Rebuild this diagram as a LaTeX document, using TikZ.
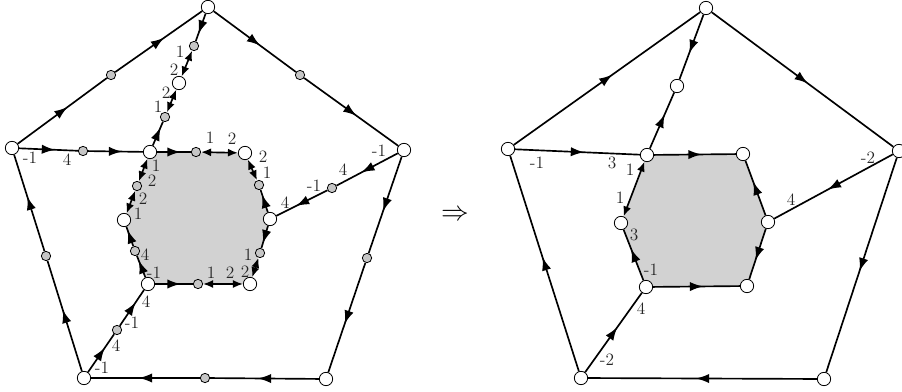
\documentclass[tikz,border=0pt]{standalone}
\usetikzlibrary{arrows.meta,decorations.markings,backgrounds}
\begin{document}
\begin{tikzpicture}[x=0.75pt,y=-0.75pt,
 wn/.style={circle,draw,fill=white,inner sep=0pt,minimum size=10pt,line width=0.6pt},
 gn/.style={circle,draw,fill=gray!45,inner sep=0pt,minimum size=7pt,line width=0.6pt},
 edge/.style={line width=1.25pt},
 mid/.style={edge,postaction={decorate},decoration={markings,mark=at position 0.5 with {\arrow[xshift=5pt]{Latex[length=10pt,width=7pt]}}}},
 dbl/.style={edge,{Latex[length=7.5pt,width=6pt]}-{Latex[length=7.5pt,width=6pt]}},
 lab/.style={font=\fontsize{13}{15}\selectfont,text=black!85,inner sep=0pt},
 hexfill/.style={fill=gray!35}]
\useasboundingbox (0,0) rectangle (902,392);
% ---------------- left diagram ----------------
\node[wn] (T) at (208,7) {};
\node[wn] (L) at (12,148) {};
\node[wn] (R) at (404,150) {};
\node[wn] (BL) at (84,378) {};
\node[wn] (BR) at (326,379) {};
\node[wn] (H1) at (150,152) {};
\node[wn] (H2) at (245,153) {};
\node[wn] (H3) at (270,219) {};
\node[wn] (H4) at (250,284) {};
\node[wn] (H5) at (148,284) {};
\node[wn] (H6) at (124,220) {};
\node[wn] (S) at (179,83) {};
\node[gn] (gLT) at (111,75) {};
\node[gn] (gTR) at (300,75) {};
\node[gn] (gRBR) at (367,258) {};
\node[gn] (gBRBL) at (205,378) {};
\node[gn] (gBLL) at (46,256) {};
\node[gn] (gLH) at (83,151) {};
\node[gn] (gRH) at (332,188) {};
\node[gn] (gBLH) at (117,330) {};
\node[gn] (gT1) at (194,46) {};
\node[gn] (gT2) at (165,117) {};
\node[gn] (h12) at (196,152) {};
\node[gn] (h23) at (259,185) {};
\node[gn] (h34) at (260,253) {};
\node[gn] (h45) at (198,284) {};
\node[gn] (h56) at (135,251) {};
\node[gn] (h61) at (137,186) {};
\begin{scope}[on background layer]
\fill[hexfill] (H1.center)--(H2.center)--(H3.center)--(H4.center)--(H5.center)--(H6.center)--cycle;
\end{scope}
% outer
\draw[mid] (L) -- (gLT);
\draw[mid] (gLT) -- (T);
\draw[mid] (T) -- (gTR);
\draw[mid] (gTR) -- (R);
\draw[mid] (R) -- (gRBR);
\draw[mid] (gRBR) -- (BR);
\draw[mid] (BR) -- (gBRBL);
\draw[mid] (gBRBL) -- (BL);
\draw[mid] (BL) -- (gBLL);
\draw[mid] (gBLL) -- (L);
% spokes
\draw[mid] (L) -- (gLH);
\draw[mid] (gLH) -- (H1);
\draw[mid] (R) -- (gRH);
\draw[mid] (gRH) -- (H3);
\draw[mid] (BL) -- (gBLH);
\draw[mid] (gBLH) -- (H5);
\draw[mid] (T) -- (gT1);
\draw[dbl] (gT1) -- (S);
\draw[dbl] (S) -- (gT2);
\draw[mid] (H1) -- (gT2);
% hexagon
\draw[mid] (H1) -- (h12);
\draw[dbl] (h12) -- (H2);
\draw[dbl] (H2) -- (h23);
\draw[mid] (H3) -- (h23);
\draw[mid] (H3) -- (h34);
\draw[dbl] (h34) -- (H4);
\draw[mid] (H5) -- (h45);
\draw[dbl] (h45) -- (H4);
\draw[mid] (H5) -- (h56);
\draw[mid] (h56) -- (H6);
\draw[dbl] (H6) -- (h61);
\draw[dbl] (h61) -- (H1);
% labels
\node[lab] (a1) at (30,158) {-1};
\node[lab] (a2) at (67,160) {4};
\node[lab] (a3) at (180,52) {1};
\node[lab] (a4) at (174,70) {2};
\node[lab] (a5) at (166,93) {2};
\node[lab] (a6) at (158,107) {1};
\node[lab] (a7) at (210,138) {1};
\node[lab] (a8) at (232,139) {2};
\node[lab] (a9) at (263,157) {2};
\node[lab] (a10) at (267,173) {1};
\node[lab] (a11) at (379,151) {-1};
\node[lab] (a12) at (343,170) {4};
\node[lab] (a13) at (314,186) {-1};
\node[lab] (a14) at (285,203) {4};
\node[lab] (a15) at (248,255) {1};
\node[lab] (a16) at (245,272) {2};
\node[lab] (a17) at (211,273) {1};
\node[lab] (a18) at (230,273) {2};
\node[lab] (a19) at (156,166) {1};
\node[lab] (a20) at (152,181) {2};
\node[lab] (a21) at (143,199) {2};
\node[lab] (a22) at (138,214) {1};
\node[lab] (a23) at (145,255) {4};
\node[lab] (a24) at (154,273) {-1};
\node[lab] (a25) at (102,368) {-1};
\node[lab] (a26) at (116,346) {4};
\node[lab] (a27) at (132,323) {-1};
\node[lab] (a28) at (146,302) {4};
% implication
\node[font=\fontsize{22}{24}\selectfont,inner sep=0pt] (imp) at (455,215) {$\Rightarrow$};
% ---------------- right diagram ----------------
\node[wn] (T') at (706,8) {};
\node[wn] (L') at (508,149) {};
\node[wn] (R') at (899,151) {};
\node[wn] (BL') at (581,378) {};
\node[wn] (BR') at (824,379) {};
\node[wn] (S') at (677,86) {};
\node[wn] (K1) at (647,155) {};
\node[wn] (K2) at (743,154) {};
\node[wn] (K3) at (768,222) {};
\node[wn] (K4) at (747,286) {};
\node[wn] (K5) at (646,287) {};
\node[wn] (K6) at (621,223) {};
\begin{scope}[on background layer]
\fill[hexfill] (K1.center)--(K2.center)--(K3.center)--(K4.center)--(K5.center)--(K6.center)--cycle;
\end{scope}
\draw[mid] (L') -- (T');
\draw[mid] (T') -- (R');
\draw[mid] (R') -- (BR');
\draw[mid] (BR') -- (BL');
\draw[mid] (BL') -- (L');
\draw[mid] (T') -- (S');
\draw[mid] (K1) -- (S');
\draw[mid] (L') -- (K1);
\draw[mid] (R') -- (K3);
\draw[mid] (BL') -- (K5);
\draw[mid] (K1) -- (K2);
\draw[mid] (K3) -- (K2);
\draw[mid] (K3) -- (K4);
\draw[mid] (K5) -- (K4);
\draw[mid] (K5) -- (K6);
\draw[dbl] (K1) -- (K6);
\node[lab] (b1) at (537,163) {-1};
\node[lab] (b2) at (612,163) {3};
\node[lab] (b3) at (630,170) {1};
\node[lab] (b4) at (620,198) {1};
\node[lab] (b5) at (634,235) {3};
\node[lab] (b6) at (651,270) {-1};
\node[lab] (b7) at (868,158) {-2};
\node[lab] (b8) at (791,200) {4};
\node[lab] (b9) at (607,360) {-2};
\node[lab] (b10) at (641,309) {4};
\end{tikzpicture}
\end{document}
